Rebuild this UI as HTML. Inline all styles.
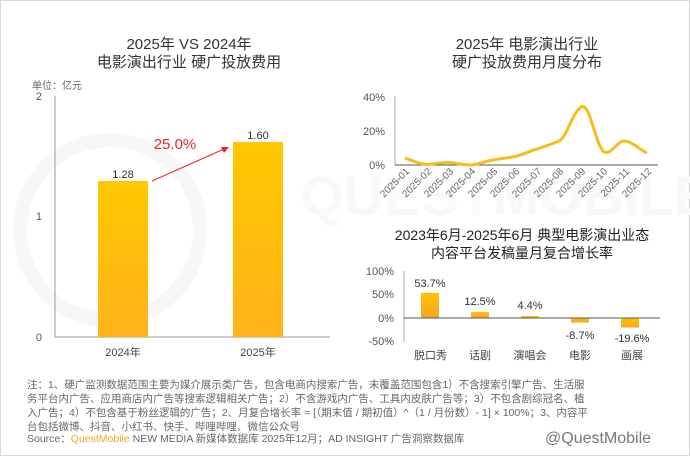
<!DOCTYPE html>
<html><head><meta charset="utf-8"><style>
body{margin:0;background:#fff}
svg{display:block;font-family:"Liberation Sans","Noto Sans CJK SC",sans-serif}
</style></head><body>
<svg width="690" height="456" viewBox="0 0 690 456">
<defs>
<linearGradient id="g" x1="0" y1="0" x2="0" y2="1"><stop offset="0" stop-color="#ffc800"/><stop offset="1" stop-color="#ffb31a"/></linearGradient>
<linearGradient id="g2" x1="0" y1="0" x2="0" y2="1"><stop offset="0" stop-color="#ffc400"/><stop offset="1" stop-color="#f5a623"/></linearGradient>
</defs>
<rect x="0.5" y="0.5" width="689" height="455" fill="#fff" stroke="#d8d8d8"/>
<circle cx="110" cy="230" r="90" fill="none" stroke="#f7f7f7" stroke-width="14"/>
<text x="300" y="215" font-size="56" fill="#f8f8f8" font-weight="bold">QUESTMOBILE</text>
<text x="189" y="49" font-size="15" fill="#333" text-anchor="middle">2025年 VS 2024年</text>
<text x="189" y="67" font-size="15" fill="#333" text-anchor="middle">电影演出行业 硬广投放费用</text>
<text x="32" y="89" font-size="10" fill="#666">单位：亿元</text>
<text x="42" y="100" font-size="11" fill="#555" text-anchor="end">2</text>
<text x="42" y="220" font-size="11" fill="#555" text-anchor="end">1</text>
<text x="42" y="341" font-size="11" fill="#555" text-anchor="end">0</text>
<line x1="55" y1="96" x2="55" y2="337" stroke="#999"/>
<line x1="55" y1="337" x2="330" y2="337" stroke="#999"/>
<rect x="98" y="181" width="50" height="156" fill="url(#g)"/>
<rect x="233" y="142" width="50" height="195" fill="url(#g)"/>
<text x="123" y="178" font-size="11" fill="#333" text-anchor="middle">1.28</text>
<text x="258" y="139" font-size="11" fill="#333" text-anchor="middle">1.60</text>
<text x="175" y="149" font-size="15" fill="#e3262b" text-anchor="middle">25.0%</text>
<line x1="152" y1="181" x2="224" y2="149" stroke="#e3262b" stroke-width="1"/>
<polygon points="229,147 221,147 224,153" fill="#e3262b"/>
<text x="123" y="356" font-size="11" fill="#444" text-anchor="middle">2024年</text>
<text x="258" y="356" font-size="11" fill="#444" text-anchor="middle">2025年</text>
<text x="527" y="49" font-size="15" fill="#333" text-anchor="middle">2025年 电影演出行业</text>
<text x="527" y="67" font-size="15" fill="#333" text-anchor="middle">硬广投放费用月度分布</text>
<text x="385" y="101" font-size="11" fill="#555" text-anchor="end">40%</text>
<text x="385" y="135" font-size="11" fill="#555" text-anchor="end">20%</text>
<text x="385" y="169" font-size="11" fill="#555" text-anchor="end">0%</text>
<line x1="395" y1="96" x2="395" y2="165" stroke="#aaa"/>
<line x1="395" y1="165" x2="658" y2="165" stroke="#555"/>
<path d="M405,158 C413,161 420,164 427,164.5 C435,164 442,162 449,162.5 C457,163 463,165 471,165 C480,164 486,161 493,160 C503,158 508,158 515,156.5 C525,154 530,151 537,149 C546,146 552,144 559,141 C567,137 571,115 581,107 C590,102 594,140 603,151 C610,158 618,139 625,141 C633,142 640,150 647,153" fill="none" stroke="#f8bc1c" stroke-width="3"/>
<g font-size="10" fill="#666" text-anchor="end">
<text transform="translate(410,172) rotate(-45)">2025-01</text>
<text transform="translate(432,172) rotate(-45)">2025-02</text>
<text transform="translate(454,172) rotate(-45)">2025-03</text>
<text transform="translate(476,172) rotate(-45)">2025-04</text>
<text transform="translate(498,172) rotate(-45)">2025-05</text>
<text transform="translate(520,172) rotate(-45)">2025-06</text>
<text transform="translate(542,172) rotate(-45)">2025-07</text>
<text transform="translate(564,172) rotate(-45)">2025-08</text>
<text transform="translate(586,172) rotate(-45)">2025-09</text>
<text transform="translate(608,172) rotate(-45)">2025-10</text>
<text transform="translate(630,172) rotate(-45)">2025-11</text>
<text transform="translate(652,172) rotate(-45)">2025-12</text>
</g>
<text x="522" y="240" font-size="14" fill="#222" text-anchor="middle">2023年6月-2025年6月 典型电影演出业态</text>
<text x="522" y="258" font-size="14" fill="#222" text-anchor="middle">内容平台发稿量月复合增长率</text>
<g font-size="11" fill="#555" text-anchor="end">
<text x="394" y="275">100%</text><text x="394" y="298">50%</text><text x="394" y="322">0%</text><text x="394" y="345">-50%</text>
</g>
<line x1="404" y1="271" x2="404" y2="342" stroke="#aaa"/>
<rect x="421" y="293" width="18" height="25" fill="url(#g2)"/>
<rect x="471" y="312" width="18" height="6" fill="url(#g2)"/>
<rect x="521" y="316" width="18" height="2" fill="url(#g2)"/>
<rect x="571" y="318" width="18" height="4.5" fill="url(#g2)"/>
<rect x="621" y="318" width="18" height="9.5" fill="url(#g2)"/>
<line x1="404" y1="318" x2="660" y2="318" stroke="#555"/>
<g font-size="11" fill="#333" text-anchor="middle">
<text x="430" y="287">53.7%</text><text x="480" y="305">12.5%</text><text x="530" y="309">4.4%</text>
<text x="580" y="339">-8.7%</text><text x="632" y="342">-19.6%</text>
</g>
<g font-size="11" fill="#444" text-anchor="middle">
<text x="414" y="359" text-anchor="start">脱口秀</text><text x="480" y="359">话剧</text><text x="530" y="359">演唱会</text><text x="580" y="359">电影</text><text x="632" y="359">画展</text>
</g>
<g font-size="10.5" fill="#666">
<text x="27" y="388">注：1、硬广监测数据范围主要为媒介展示类广告，包含电商内搜索广告，未覆盖范围包含1）不含搜索引擎广告、生活服</text>
<text x="27" y="402">务平台内广告、应用商店内广告等搜索逻辑相关广告；2）不含游戏内广告、工具内皮肤广告等；3）不包含剧综冠名、植</text>
<text x="27" y="416">入广告；4）不包含基于粉丝逻辑的广告；2、月复合增长率 = [（期末值 / 期初值）^（1 / 月份数）- 1] × 100%；3、内容平</text>
<text x="27" y="430">台包括微博、抖音、小红书、快手、哔哩哔哩、微信公众号</text>
<text x="27" y="442">Source：<tspan fill="#f5a623">QuestMobile</tspan> NEW MEDIA 新媒体数据库 2025年12月；AD INSIGHT 广告洞察数据库</text>
</g>
<text x="545" y="443" font-size="16" fill="#777">@QuestMobile</text>
</svg>
</body></html>
